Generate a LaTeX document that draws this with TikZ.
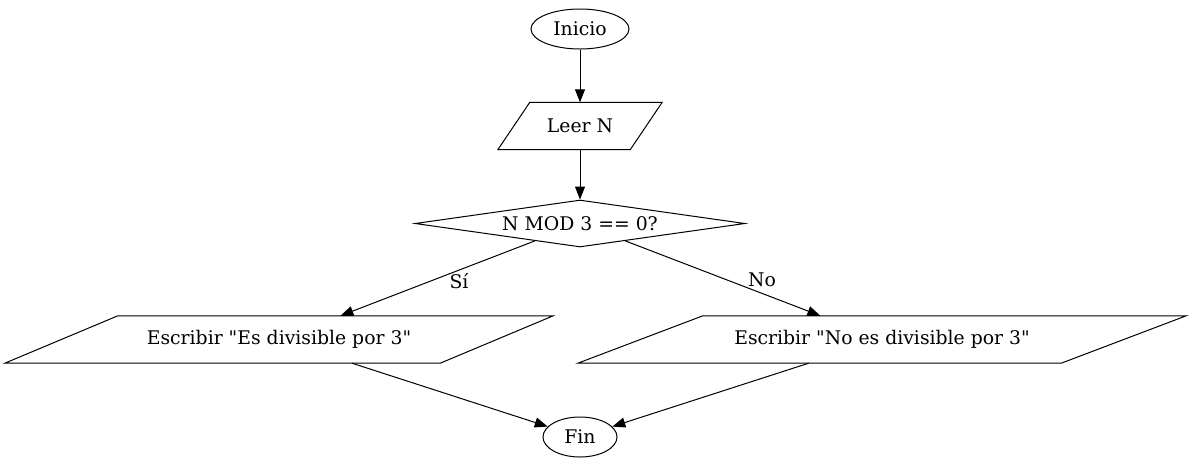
\documentclass[tikz,border=0pt]{standalone}
\usepackage{fontspec}
\setmainfont{DejaVu Serif}[Ligatures=TeXOff]
\usetikzlibrary{shapes.geometric,arrows.meta,calc}
\begin{document}
\begin{tikzpicture}[x=1pt,y=-1pt,
  every node/.style={font=\fontsize{18.8}{22}\selectfont, inner sep=0pt},
  term/.style={ellipse, draw, line width=1pt, minimum height=40pt},
  iobox/.style={rectangle, minimum height=47pt},
  decbox/.style={diamond, draw, line width=1pt, shape aspect=7, minimum width=330pt, minimum height=47pt},
  para/.style={draw, line width=1pt},
  conn/.style={line width=1pt, -{Triangle[length=13pt,width=10pt]}},
  lbl/.style={}
]
\useasboundingbox (0,0) rectangle (1191,467);
\node[term, minimum width=98pt] (inicio) at (580,29) {Inicio};
\node[iobox, minimum width=132pt] (leer) at (580,126) {Leer N};
\node[decbox] (dec) at (580,223.5) {N MOD 3 == 0?};
\node[iobox, minimum width=435pt] (si) at (279,339.5) {Escribir "Es divisible por 3"};
\node[iobox, minimum width=483pt] (no) at (882,339.5) {Escribir "No es divisible por 3"};
\node[term, minimum width=74pt] (fin) at (580,437) {Fin};
% parallelogram outlines
\draw[para] ($(leer.north west)+(16,0)$) -- ($(leer.north east)+(16,0)$) -- ($(leer.south east)+(-16,0)$) -- ($(leer.south west)+(-16,0)$) -- cycle;
\draw[para] ($(si.north west)+(56.5,0)$) -- ($(si.north east)+(56.5,0)$) -- ($(si.south east)+(-56.5,0)$) -- ($(si.south west)+(-56.5,0)$) -- cycle;
\draw[para] ($(no.north west)+(62.5,0)$) -- ($(no.north east)+(62.5,0)$) -- ($(no.south east)+(-62.5,0)$) -- ($(no.south west)+(-62.5,0)$) -- cycle;
% connectors
\draw[conn] (inicio) -- (leer);
\draw[conn] (leer) -- (dec);
\draw[conn] (dec) -- (si);
\draw[conn] (dec) -- (no);
\draw[conn] (si) -- (fin);
\draw[conn] (no) -- (fin);
\node[lbl] (lsi) at (459,281) {Sí};
\node[lbl] (lno) at (762,280) {No};
\end{tikzpicture}
\end{document}
